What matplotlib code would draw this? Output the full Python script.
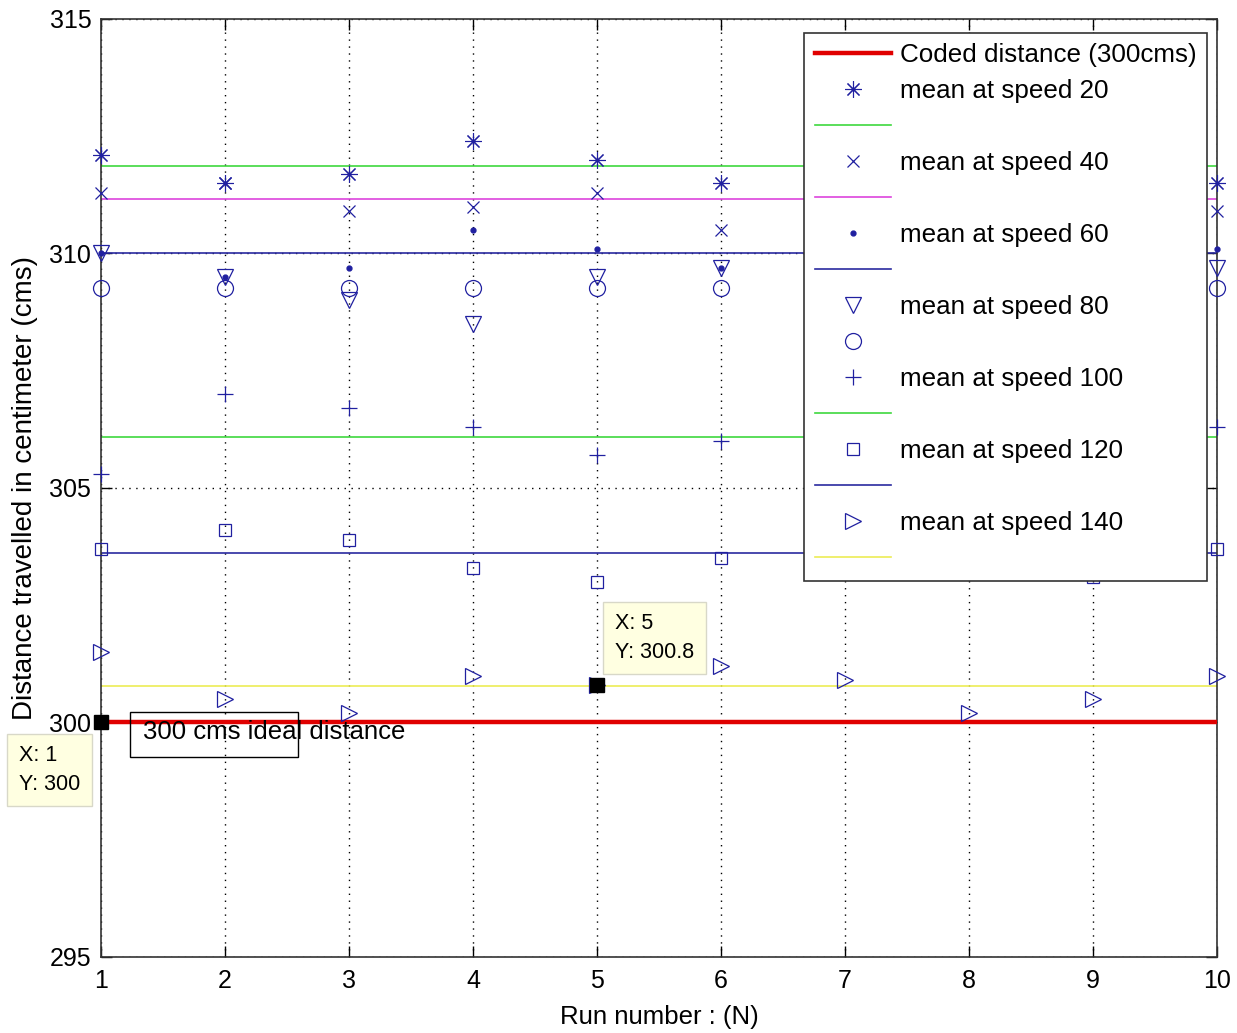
import matplotlib
matplotlib.use("Agg")
import matplotlib.pyplot as plt
from matplotlib.ticker import FixedLocator
from matplotlib.patches import Rectangle

plt.rcParams['font.family'] = ['Liberation Sans', 'DejaVu Sans']

# ---------------- data ----------------
runs = [1, 2, 3, 4, 5, 6, 7, 8, 9, 10]
coded_distance = 300
speed20 = [312.1, 311.5, 311.7, 312.4, 312.0, 311.5, 312.0, 312.2, 311.8, 311.5]
speed40 = [311.3, 311.5, 310.9, 311.0, 311.3, 310.5, 311.6, 311.3, 311.4, 310.9]
speed60 = [310.0, 309.5, 309.7, 310.5, 310.1, 309.7, 310.3, 310.1, 310.1, 310.1]
speed80 = [310.0, 309.5, 309.0, 308.5, 309.5, 309.7, 308.8, 309.1, 308.8, 309.7]
speed100 = [305.3, 307.0, 306.7, 306.3, 305.7, 306.0, 305.8, 306.0, 305.8, 306.3]
speed120 = [303.7, 304.1, 303.9, 303.3, 303.0, 303.5, 304.0, 303.8, 303.1, 303.7]
speed140 = [301.5, 300.5, 300.2, 301.0, 300.8, 301.2, 300.9, 300.2, 300.5, 301.0]
mean20, mean40, mean60, mean80 = 311.87, 311.17, 310.02, 309.26
mean100, mean120, mean140 = 306.09, 303.61, 300.78
speed_labels = ['mean at speed 20', 'mean at speed 40', 'mean at speed 60',
                'mean at speed 80', 'mean at speed 100', 'mean at speed 120',
                'mean at speed 140']
coded_label = 'Coded distance (300cms)'
x_ticks = [1, 2, 3, 4, 5, 6, 7, 8, 9, 10]
y_ticks = [295, 300, 305, 310, 315]
annotation_text = '300 cms ideal distance'
tip1 = (1, 300)
tip2 = (5, 300.8)

# ---------------- figure ----------------
W, H = 1237, 1033
fig = plt.figure(figsize=(W / 100, H / 100), dpi=100)
ax = fig.add_axes([101 / W, 1 - 957 / H, (1217 - 101) / W, (957 - 19) / H])

mk = '#2020a0'
mew = 0.9
green = '#3ed83e'
magenta = '#dd44dd'
blue = '#2a2aa0'
yellow = '#ecec55'

def flat(v):
    return [v] * len(runs)

h_red, = ax.plot(runs, flat(coded_distance), color='#e00000', lw=3.2, zorder=3)
h20, = ax.plot(runs, speed20, ls='none', marker=(8, 2, 0), ms=12, mec=mk, mew=0.8, color=mk, clip_on=False, zorder=4)
h20m, = ax.plot(runs, flat(mean20), color=green, lw=1.2, zorder=2)
h40, = ax.plot(runs, speed40, ls='none', marker='x', ms=9, mec=mk, mew=mew, color=mk, clip_on=False, zorder=4)
h40m, = ax.plot(runs, flat(mean40), color=magenta, lw=1.2, zorder=2)
h60, = ax.plot(runs, speed60, ls='none', marker='.', ms=7, mec=mk, mfc=mk, color=mk, clip_on=False, zorder=4)
h60m, = ax.plot(runs, flat(mean60), color=blue, lw=1.2, zorder=2)
h80, = ax.plot(runs, speed80, ls='none', marker='v', ms=12, mec=mk, mfc='none', mew=mew, clip_on=False, zorder=4)
h80m, = ax.plot(runs, flat(mean80), ls='none', marker='o', ms=11.5, mec=mk, mfc='none', mew=mew, clip_on=False, zorder=4)
h100, = ax.plot(runs, speed100, ls='none', marker='+', ms=12, mec=mk, mew=mew, clip_on=False, zorder=4)
h100m, = ax.plot(runs, flat(mean100), color=green, lw=1.2, zorder=2)
h120, = ax.plot(runs, speed120, ls='none', marker='s', ms=9, mec=mk, mfc='none', mew=mew, clip_on=False, zorder=4)
h120m, = ax.plot(runs, flat(mean120), color=blue, lw=1.2, zorder=2)
h140, = ax.plot(runs, speed140, ls='none', marker='>', ms=12, mec=mk, mfc='none', mew=mew, clip_on=False, zorder=4)
h140m, = ax.plot(runs, flat(mean140), color=yellow, lw=1.2, zorder=2)

ax.set_xlim(runs[0], runs[-1])
ax.set_ylim(y_ticks[0], y_ticks[-1])
ax.xaxis.set_major_locator(FixedLocator(x_ticks))
ax.yaxis.set_major_locator(FixedLocator(y_ticks))
ax.grid(True, color='black', ls=(0, (1, 4)), lw=1.0)
ax.tick_params(direction='in', length=8, width=1, top=True, right=True,
               labelsize=18, colors='black')
ax.tick_params(axis='x', pad=9)
ax.tick_params(axis='y', pad=7)
for s in ax.spines.values():
    s.set_color('#333333')
    s.set_linewidth(1.2)

ax.set_xlabel('Run number : (N)', fontsize=18.5, labelpad=8)
ax.set_ylabel('Distance travelled in centimeter (cms)', fontsize=20, labelpad=8)

# legend
handles = [h_red, h20, h20m, h40, h40m, h60, h60m, h80, h80m,
           h100, h100m, h120, h120m, h140, h140m]
labels = [coded_label, speed_labels[0], '', speed_labels[1], '', speed_labels[2], '',
          speed_labels[3], '', speed_labels[4], '', speed_labels[5], '',
          speed_labels[6], '']
leg = ax.legend(handles, labels, loc='upper right',
                bbox_to_anchor=(1207 / W, 1 - 33 / H), bbox_transform=fig.transFigure,
                fontsize=18.7, frameon=True, fancybox=False, framealpha=1,
                edgecolor='#333333', borderpad=0.4, labelspacing=0.46,
                handlelength=2.95, handletextpad=0.33, numpoints=1, borderaxespad=0)
leg.get_frame().set_linewidth(1.2)
leg.set_zorder(10)

# text annotation with box
ax.text(1.34, 299.8, annotation_text, fontsize=18.5, va='center', ha='left', zorder=6)
ax.add_patch(Rectangle((1.235, 299.27), 1.355, 0.96, fill=False, ec='black', lw=1.0, zorder=6))

# data tips
ax.plot([tip1[0], tip2[0]], [tip1[1], tip2[1]], ls='none', marker='s', ms=10,
        color='black', clip_on=False, zorder=8)
bbox_tip = dict(boxstyle='square,pad=0.55', fc='#ffffe1', ec='#d8d8c8', lw=1)
fig.text(19 / W, 1 - 770 / H, f'X: {tip1[0]}\nY: {tip1[1]}', fontsize=15.5,
         va='center', ha='left', bbox=bbox_tip, linespacing=1.45, zorder=9)
fig.text(615 / W, 1 - 638 / H, f'X: {tip2[0]}\nY: {tip2[1]}', fontsize=15.5,
         va='center', ha='left', bbox=bbox_tip, linespacing=1.45, zorder=9)

fig.savefig('out.png', dpi=100)
